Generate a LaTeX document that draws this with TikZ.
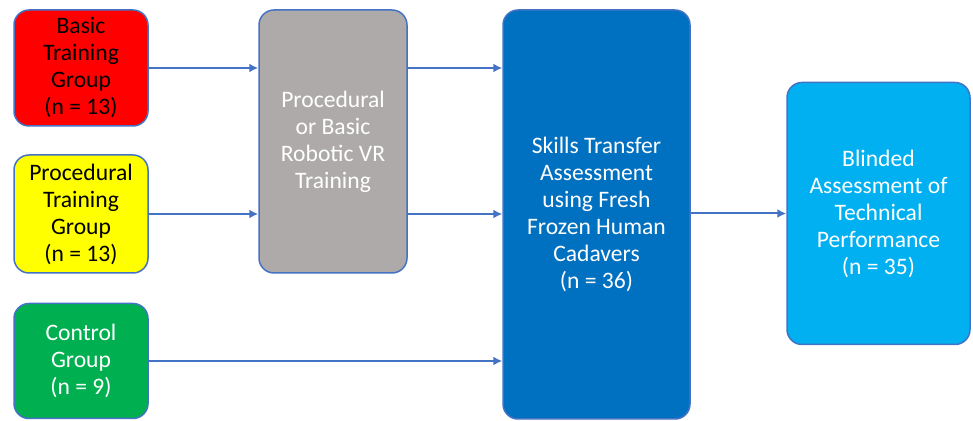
\documentclass[tikz,border=0pt]{standalone}
\usepackage{fontspec}
\setmainfont{Carlito}
\usepackage{tikz}
\usetikzlibrary{arrows.meta}
\definecolor{basicred}{HTML}{FF0000}
\definecolor{procyellow}{HTML}{FFFF00}
\definecolor{ctrlgreen}{HTML}{00B050}
\definecolor{vrgray}{HTML}{AEAAAA}
\definecolor{cadblue}{HTML}{0070C0}
\definecolor{blindblue}{HTML}{00B0F0}
\definecolor{edgeblue}{HTML}{4472C4}
\tikzstyle{box}=[draw=edgeblue, line width=.75pt, rounded corners=7.5pt, align=center, font=\fontsize{11.8}{13.5}\selectfont]
\tikzstyle{grp}=[box, minimum width=67pt]
\tikzstyle{flow}=[draw=edgeblue, line width=1pt, -{Latex[length=4.5pt,width=4.5pt]}]

\begin{document}
\begin{tikzpicture}[x=.5pt, y=-.5pt]
    \useasboundingbox (0,0) rectangle (973,421);

    % groups on the left
    \node[grp, fill=basicred, minimum height=58pt] (basic) at (81,68) {Basic\\Training\\Group\\(n = 13)};
    \node[grp, fill=procyellow, minimum height=59pt] (proc) at (81,214) {Procedural\\Training\\Group\\(n = 13)};
    \node[grp, fill=ctrlgreen, minimum height=57.5pt, text=white] (control) at (81,361) {Control\\Group\\(n = 9)};

    % training and assessment stages
    \node[box, fill=vrgray, text=white, minimum width=74pt, minimum height=131.5pt] (train) at (333,141.5) {Procedural\\or Basic\\Robotic VR\\Training};
    \node[box, fill=cadblue, text=white, minimum width=93.5pt, minimum height=204.5pt] (transfer) at (596.5,214.5) {Skills Transfer\\Assessment\\using Fresh\\Frozen Human\\Cadavers\\(n = 36)};
    \node[box, fill=blindblue, text=white, minimum width=91.5pt, minimum height=131pt] (blind) at (878.5,213.5) {Blinded\\Assessment of\\Technical\\Performance\\(n = 35)};

    \draw[flow] (basic.east) -- (basic.east -| train.west);
    \draw[flow] (proc.east) -- (proc.east -| train.west);
    \draw[flow] (train.east |- basic.east) -- (transfer.west |- basic.east);
    \draw[flow] (train.east |- proc.east) -- (transfer.west |- proc.east);
    \draw[flow] (control.east) -- (control.east -| transfer.west);
    \draw[flow] (transfer.east |- blind.west) -- (blind.west);
  \end{tikzpicture}
\end{document}
